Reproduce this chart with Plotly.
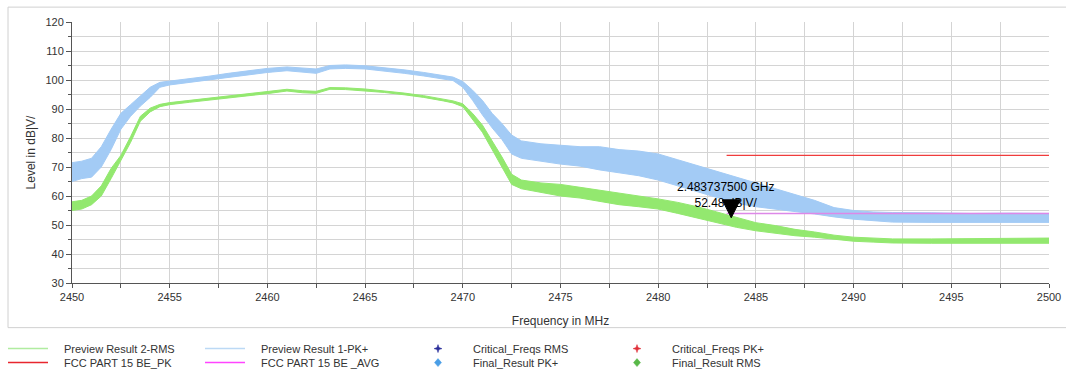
import plotly.graph_objects as go

# Sweep frequencies (MHz) and the envelope of each noisy preview trace (dBµV)
freq_mhz = [2450, 2450.5, 2451.0, 2451.5, 2452.0, 2452.5, 2453.0, 2453.5, 2454.0, 2454.5,
            2455, 2456, 2457, 2458, 2459, 2460, 2461, 2461.8, 2462.5, 2463.2,
            2464, 2465, 2466, 2467, 2468, 2469, 2469.5, 2470, 2470.5, 2471,
            2471.5, 2472, 2472.5, 2473, 2474, 2475, 2476, 2477, 2478, 2479,
            2480, 2481, 2482, 2483, 2484, 2485, 2486, 2487, 2488, 2489,
            2490, 2491, 2492, 2494, 2496, 2498, 2500]

pk_upper = [71.5, 72, 73, 77, 83, 88.5, 91.5, 94.5, 97.5, 99.2,
            99.6, 100.6, 101.3, 102.3, 103.2, 104, 104.5, 104.2, 103.8, 105,
            105.2, 104.9, 104.3, 103.5, 102.6, 101.5, 101, 99.5, 96.5, 93,
            88.5, 85, 81, 79, 78, 77.5, 77, 77, 76, 75.5,
            74.5, 72.5, 70.5, 68.5, 66.5, 64.5, 62.5, 60.5, 58.5, 56,
            55, 54.5, 54.3, 54.2, 54, 54.1, 54]
pk_lower = [65, 66, 66.5, 70, 76, 83, 87.5, 91, 94, 97.5,
            98.3, 99.2, 99.9, 100.8, 101.8, 102.6, 103.2, 102.8, 102.3, 103.8,
            104, 103.8, 103.1, 102.3, 101.4, 100.3, 99.8, 97.5, 93, 88,
            83.5, 79.5, 74.5, 73, 72, 71, 70.3, 69, 68, 67,
            65.5, 63.5, 61.5, 59.5, 57.5, 56.3, 55.5, 54.7, 53.8, 52.8,
            52, 51.5, 51, 50.9, 50.9, 50.9, 50.9]

rms_upper = [58, 58.5, 60, 63.5, 69.5, 74, 80.5, 87.5, 90.3, 91.6,
             92.2, 93, 93.7, 94.4, 95.3, 96, 96.8, 96.3, 96.1, 97.4,
             97.3, 96.9, 96.3, 95.5, 94.6, 93.4, 92.8, 91.8, 88.5, 84.5,
             79, 73.5, 67.5, 65.5, 64.5, 64, 63, 62, 61, 60.2,
             59, 57.8, 56.3, 54.5, 52.6, 50.8, 49.8, 48.5, 47.6, 46.5,
             45.8, 45.5, 45.2, 45.2, 45.3, 45.3, 45.5]
rms_lower = [55, 55.5, 57, 60, 66, 72, 78.5, 85.8, 89, 90.8,
             91.5, 92.3, 93, 93.7, 94.6, 95.3, 96.2, 95.6, 95.4, 96.8,
             96.7, 96.3, 95.7, 94.9, 94, 92.8, 92.1, 90.8, 86.5, 82,
             76, 70, 64, 62.5, 61.3, 60, 59.3, 58.2, 57, 56.3,
             55.5, 54, 52.4, 51, 49.2, 48, 47.2, 46.3, 45.8, 45,
             44.4, 44.1, 43.8, 43.7, 43.7, 43.7, 43.7]

# FCC Part 15 band-edge limits
limit_freq = [2483.5, 2500]
limit_pk = [74, 74]
limit_avg = [54, 54]

# Marker readout
marker_freq = 2483.7375
marker_level = 52.48
marker_label = "2.483737500 GHz<br>52.48 dB|V/"

BLUE = "#a3cbf5"
GREEN = "#93e86f"
RED = "#f03c3c"
PINK = "#dd88e8"
TEXT = "#333333"
GRID = "#d4d4d4"

fig = go.Figure()


def band(x, upper, lower, color, name):
    fig.add_trace(go.Scatter(x=x, y=upper, mode="lines", line=dict(color=color, width=1),
                             showlegend=False, name=name, hoverinfo="skip"))
    fig.add_trace(go.Scatter(x=x, y=lower, mode="lines", line=dict(color=color, width=1),
                             fill="tonexty", fillcolor=color, showlegend=False, name=name))


band(freq_mhz, pk_upper, pk_lower, BLUE, "Preview Result 1-PK+")
band(freq_mhz, rms_upper, rms_lower, GREEN, "Preview Result 2-RMS")

fig.add_trace(go.Scatter(x=limit_freq, y=limit_pk, mode="lines", line=dict(color=RED, width=1.2),
                         showlegend=False, name="FCC PART 15 BE_PK"))
fig.add_trace(go.Scatter(x=limit_freq, y=limit_avg, mode="lines", line=dict(color=PINK, width=1.5),
                         showlegend=False, name="FCC PART 15 BE _AVG"))

# Marker readout text, then the marker triangle (tip on the measured point) drawn over it
fig.add_annotation(x=marker_freq, y=marker_level, text=marker_label, showarrow=False,
                   yanchor="bottom", xanchor="center", yshift=6, xshift=-6,
                   font=dict(size=12, color="black", family="Arial, Liberation Sans"),
                   align="center")
fig.add_shape(type="path", xref="x", yref="y", xsizemode="pixel", ysizemode="pixel",
              xanchor=marker_freq, yanchor=marker_level,
              path="M -9,18 L 9,18 L 0,0 Z", fillcolor="black", line=dict(color="black", width=1))

# Outer panel border
fig.add_shape(type="rect", xref="paper", yref="paper", x0=-0.0655, x1=1.05, y0=-0.171, y1=1.057,
              line=dict(color="#d0d0d0", width=1), layer="below")

# Legend drawn as a 4x2 grid under the panel
PLOT_L, PLOT_W = 72, 977
PLOT_B, PLOT_H = 283.3, 261.3


def px(xpix):
    return (xpix - PLOT_L) / PLOT_W


def py(ypix):
    return (PLOT_B - ypix) / PLOT_H


legend_lines = [("Preview Result 2-RMS", "#b0eca0", 8, 349),
                ("FCC PART 15 BE_PK", "#e8262e", 8, 363),
                ("Preview Result 1-PK+", "#bcd9f5", 205, 349),
                ("FCC PART 15 BE _AVG", "#ff44ff", 205, 363)]
for label, color, x0, y0 in legend_lines:
    fig.add_shape(type="line", xref="paper", yref="paper", x0=px(x0), x1=px(x0 + 40),
                  y0=py(y0), y1=py(y0), line=dict(color=color, width=1.5))
    fig.add_annotation(xref="paper", yref="paper", x=px(x0 + 54), y=py(y0), text=label,
                       showarrow=False, xanchor="left", yanchor="middle",
                       font=dict(size=11, color=TEXT, family="Arial, Liberation Sans"))

star = "M 0,4 L 1,1 L 4,0 L 1,-1 L 0,-4 L -1,-1 L -4,0 L -1,1 Z"
diamond = "M 0,4 L 3.5,0 L 0,-4 L -3.5,0 Z"
legend_marks = [("Critical_Freqs RMS", "#2b2f9a", star, 438, 349),
                ("Final_Result PK+", "#4a9ee6", diamond, 438, 363),
                ("Critical_Freqs PK+", "#e0303a", star, 637, 349),
                ("Final_Result RMS", "#58b848", diamond, 637, 363)]
for label, color, path, x0, y0 in legend_marks:
    fig.add_shape(type="path", xref="paper", yref="paper", xsizemode="pixel", ysizemode="pixel",
                  xanchor=px(x0), yanchor=py(y0), path=path,
                  fillcolor=color, line=dict(color=color, width=0.5))
    fig.add_annotation(xref="paper", yref="paper", x=px(x0 + 33), y=py(y0), text=label,
                       showarrow=False, xanchor="left", yanchor="middle",
                       font=dict(size=11, color=TEXT, family="Arial, Liberation Sans"))

fig.update_layout(
    width=1066, height=372,
    margin=dict(l=72, r=17, t=22, b=88.7),
    paper_bgcolor="white", plot_bgcolor="white",
    font=dict(family="Arial, Liberation Sans", size=11, color=TEXT),
    showlegend=False,
)
fig.update_xaxes(
    range=[2450, 2500], tick0=2450, dtick=5, automargin=False,
    showgrid=True, gridcolor=GRID, gridwidth=1,
    minor=dict(dtick=2.5, showgrid=True, gridcolor=GRID, ticks="outside", ticklen=4, tickcolor="#555"),
    ticks="outside", ticklen=4, tickcolor="#555",
    showline=True, linecolor="#555", linewidth=1, zeroline=False,
    title=dict(text="Frequency in MHz", font=dict(size=12, color=TEXT), standoff=14),
    tickfont=dict(size=11, color=TEXT),
)
fig.update_yaxes(
    range=[30, 120], tick0=30, dtick=10, automargin=False,
    showgrid=True, gridcolor=GRID, gridwidth=1,
    minor=dict(dtick=5, showgrid=True, gridcolor=GRID, ticks="outside", ticklen=3, tickcolor="#555"),
    ticks="outside", ticklen=5, tickcolor="#555",
    showline=True, linecolor="#555", linewidth=1, zeroline=False,
    title=dict(text="Level in dB|V/", font=dict(size=12, color=TEXT), standoff=7),
    tickfont=dict(size=11, color=TEXT),
)

fig.write_html("out.html")
